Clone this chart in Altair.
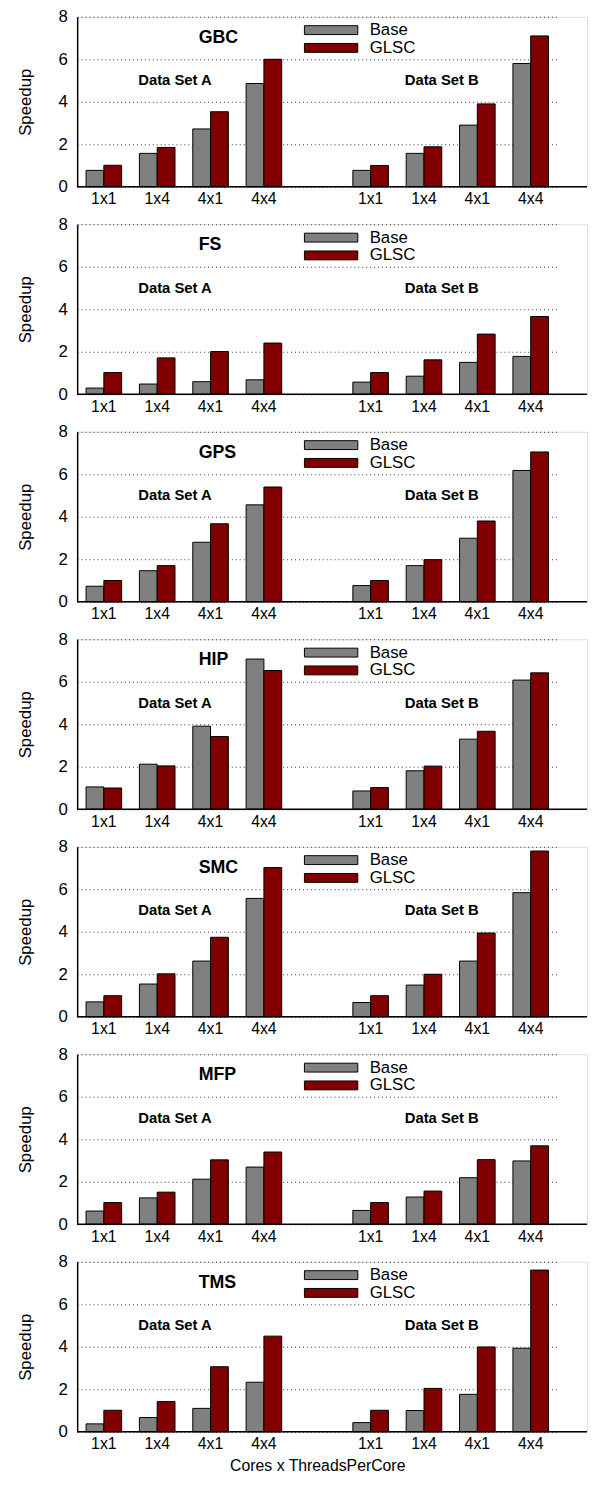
import altair as alt
import pandas as pd

benchmarks = ["GBC", "FS", "GPS", "HIP", "SMC", "MFP", "TMS"]
configs = ["1x1", "1x4", "4x1", "4x4"]
series = ["Base", "GLSC"]
colors = ["#808080", "#800000"]

base_a = {
    "GBC": [0.77, 1.57, 2.72, 4.86],
    "FS": [0.29, 0.48, 0.59, 0.68],
    "GPS": [0.73, 1.46, 2.80, 4.56],
    "HIP": [1.05, 2.12, 3.91, 7.07],
    "SMC": [0.70, 1.54, 2.62, 5.57],
    "MFP": [0.62, 1.24, 2.12, 2.69],
    "TMS": [0.37, 0.67, 1.10, 2.33],
}
glsc_a = {
    "GBC": [1.01, 1.85, 3.53, 6.00],
    "FS": [1.02, 1.71, 2.01, 2.41],
    "GPS": [1.00, 1.70, 3.67, 5.40],
    "HIP": [1.00, 2.04, 3.42, 6.53],
    "SMC": [0.99, 2.02, 3.74, 7.02],
    "MFP": [1.02, 1.51, 3.03, 3.40],
    "TMS": [1.01, 1.42, 3.06, 4.50],
}
base_b = {
    "GBC": [0.77, 1.57, 2.90, 5.80],
    "FS": [0.57, 0.85, 1.50, 1.78],
    "GPS": [0.76, 1.70, 2.99, 6.18],
    "HIP": [0.86, 1.81, 3.30, 6.08],
    "SMC": [0.67, 1.49, 2.62, 5.84],
    "MFP": [0.65, 1.28, 2.19, 2.98],
    "TMS": [0.43, 1.00, 1.76, 3.93],
}
glsc_b = {
    "GBC": [1.00, 1.88, 3.90, 7.10],
    "FS": [1.02, 1.62, 2.83, 3.66],
    "GPS": [1.00, 1.98, 3.80, 7.05],
    "HIP": [1.02, 2.03, 3.67, 6.42],
    "SMC": [0.99, 2.00, 3.94, 7.80],
    "MFP": [1.02, 1.56, 3.04, 3.69],
    "TMS": [1.01, 2.04, 3.99, 7.61],
}

FONT = "Liberation Sans"
W = 516
H = 172

slots = ["A 1x1", "A 1x4", "A 4x1", "A 4x4", "--", "B 1x1", "B 1x4", "B 4x1", "B 4x4"]


def legend_layers():
    layers = []
    for i, (s, col) in enumerate(zip(series, colors)):
        y0 = 9 + 18 * i
        sw = alt.Chart(pd.DataFrame({"s": [s]})).mark_rect(
            stroke="black", strokeWidth=1, fill=col
        ).encode(x=alt.value(230), x2=alt.value(284), y=alt.value(y0), y2=alt.value(y0 + 9))
        lab = alt.Chart(pd.DataFrame({"s": [s]})).mark_text(
            font=FONT, fontSize=17, align="left", baseline="middle", color="black"
        ).encode(text="s:N", x=alt.value(296), y=alt.value(y0 + 4.5))
        layers += [sw, lab]
    return layers


def panel(name, last):
    rows = []
    for ds, bvals, gvals in (("A", base_a[name], glsc_a[name]), ("B", base_b[name], glsc_b[name])):
        for c, bv, gv in zip(configs, bvals, gvals):
            rows.append({"slot": f"{ds} {c}", "series": "Base", "value": bv})
            rows.append({"slot": f"{ds} {c}", "series": "GLSC", "value": gv})
    df = pd.DataFrame(rows)

    xaxis_kw = dict(
        labelExpr="substring(datum.label, 2)",
        labelAngle=0,
        ticks=False,
        domain=False,
        labelFontSize=16,
        labelPadding=4,
        labelColor="black",
        labelFont=FONT,
    )
    if last:
        xaxis_kw.update(title="Cores x ThreadsPerCore", titleFontSize=16, titleFont=FONT,
                        titleFontWeight="normal", titlePadding=6, titleColor="black")
    else:
        xaxis_kw.update(title=None)

    yscale = alt.Scale(domain=[0, 8], nice=False)

    bars = alt.Chart(df).mark_bar(stroke="black", strokeWidth=1, opacity=1).encode(
        x=alt.X("slot:N", sort=slots,
                scale=alt.Scale(domain=slots, range=[0, 486], paddingInner=1 / 3, paddingOuter=1 / 6),
                axis=alt.Axis(**xaxis_kw)),
        xOffset=alt.XOffset("series:N", scale=alt.Scale(domain=series, paddingInner=0, paddingOuter=0)),
        y=alt.Y("value:Q", scale=yscale,
                axis=alt.Axis(values=[0, 2, 4, 6, 8], title="Speedup", grid=True,
                              gridDash=[1, 3], gridColor="black", gridOpacity=0.8, gridWidth=1,
                              ticks=False, domainColor="black", domainWidth=1.5,
                              labelFontSize=17, labelPadding=10, labelColor="black", labelFont=FONT,
                              titleFontSize=17, titleFont=FONT, titleFontWeight="normal",
                              titlePadding=24, titleColor="black")),
        color=alt.Color("series:N", scale=alt.Scale(domain=series, range=colors), legend=None),
    )

    base_rule = alt.Chart(pd.DataFrame({"v": [0]})).mark_rule(color="black", strokeWidth=1.5).encode(
        y=alt.Y("v:Q", scale=yscale), x=alt.value(0), x2=alt.value(W)
    )

    title_txt = alt.Chart(pd.DataFrame({"t": [name]})).mark_text(
        font=FONT, fontSize=18, fontWeight="bold", align="left", baseline="middle", color="black"
    ).encode(text="t:N", x=alt.value(123), y=alt.datum(7))

    ds_a = alt.Chart(pd.DataFrame({"t": ["Data Set A"]})).mark_text(
        font=FONT, fontSize=15, fontWeight="bold", align="center", baseline="middle", color="black"
    ).encode(text="t:N", x=alt.value(99), y=alt.datum(5))

    ds_b = alt.Chart(pd.DataFrame({"t": ["Data Set B"]})).mark_text(
        font=FONT, fontSize=15, fontWeight="bold", align="center", baseline="middle", color="black"
    ).encode(text="t:N", x=alt.value(369), y=alt.datum(5))

    return alt.layer(bars, base_rule, title_txt, ds_a, ds_b, *legend_layers()).properties(width=W, height=H)


panels = [panel(b, i == len(benchmarks) - 1) for i, b in enumerate(benchmarks)]

chart = (
    alt.vconcat(*panels, spacing=7)
    .properties(padding={"left": 8, "top": -10, "right": 0, "bottom": 0})
    .configure_view(strokeWidth=0)
    .configure(font=FONT)
)

chart.save("out.html", embed_options={"renderer": "svg", "actions": False})
